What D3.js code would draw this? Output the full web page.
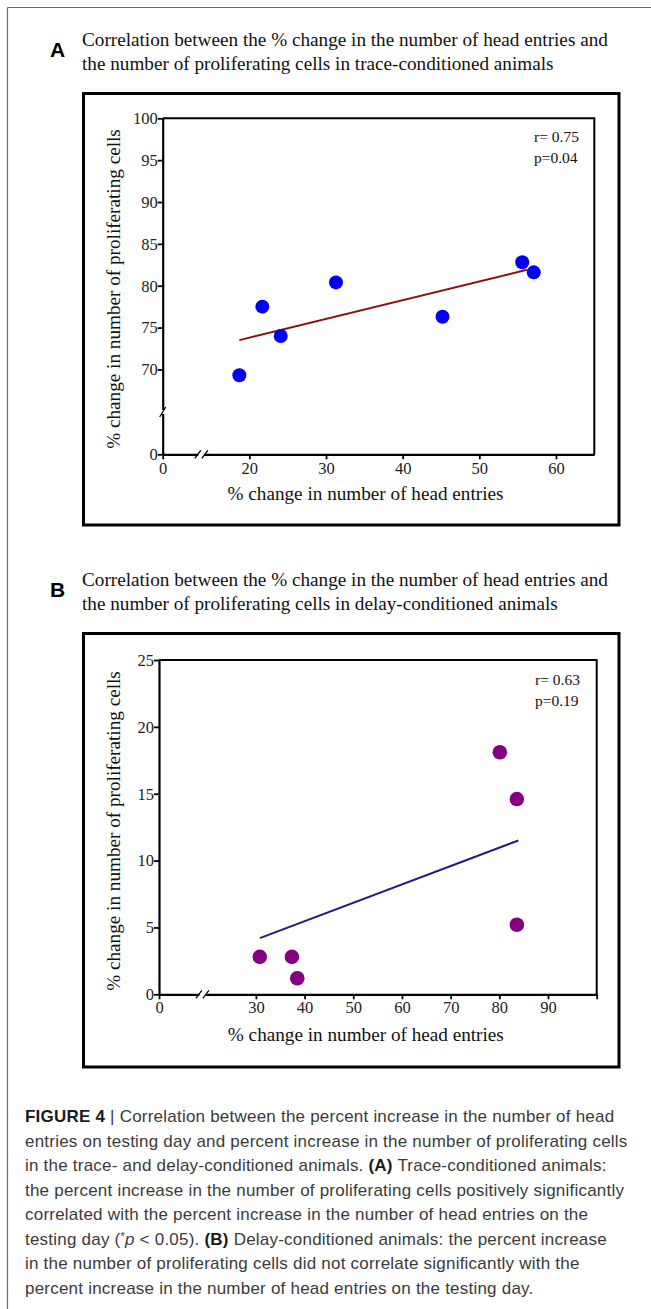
<!DOCTYPE html>
<html><head><meta charset="utf-8">
<script src="https://cdn.jsdelivr.net/npm/d3@7"></script>
<style>
html,body{margin:0;padding:0;background:#fff;}
svg{display:block;}
</style></head>
<body>
<script>
// ---------- DATA ----------
const traceX = [18.7, 21.7, 24.1, 31.3, 45.2, 55.6, 57.1];
const traceY = [69.3, 77.5, 74.0, 80.4, 76.3, 82.8, 81.6];
const traceFitX = [18.7, 56.2];
const traceFitY = [73.5, 81.9];
const traceXTicks = [0, 20, 30, 40, 50, 60];
const traceYTicks = [0, 70, 75, 80, 85, 90, 95, 100];
const traceStats = ["r= 0.75", "p=0.04"];

const delayX = [30.8, 37.4, 38.5, 80.1, 83.6, 83.6];
const delayY = [2.8, 2.8, 1.2, 18.1, 14.6, 5.2];
const delayFitX = [30.8, 83.9];
const delayFitY = [4.2, 11.5];
const delayXTicks = [0, 30, 40, 50, 60, 70, 80, 90, 100];
const delayXTickLabels = ["0", "30", "40", "50", "60", "70", "80", "90", ""];
const delayYTicks = [0, 5, 10, 15, 20, 25];
const delayStats = ["r= 0.63", "p=0.19"];

const titleA = ["Correlation between the % change in the number of head entries and",
                "the number of proliferating cells in trace-conditioned animals"];
const titleB = ["Correlation between the % change in the number of head entries and",
                "the number of proliferating cells in delay-conditioned animals"];
const xLabel = "% change in number of head entries";
const yLabel = "% change in number of proliferating cells";

// ---------- SETUP ----------
const W = 651, H = 1309;
const svg = d3.select("body").append("svg").attr("width", W).attr("height", H);
const serif = "'Liberation Serif','Times New Roman',serif";
const sans = "'Liberation Sans',Arial,sans-serif";

// outer figure frame
svg.append("line").attr("x1", 7.5).attr("y1", 7.5).attr("x2", W).attr("y2", 7.5)
  .attr("stroke", "#6d6d6d").attr("stroke-width", 1.2);
svg.append("line").attr("x1", 7.5).attr("y1", 7.5).attr("x2", 7.5).attr("y2", H)
  .attr("stroke", "#6d6d6d").attr("stroke-width", 1.2);

function panel(cfg) {
  const g = svg.append("g");
  g.append("rect").attr("x", cfg.box[0]).attr("y", cfg.box[1])
    .attr("width", cfg.box[2] - cfg.box[0]).attr("height", cfg.box[3] - cfg.box[1])
    .attr("fill", "none").attr("stroke", "#000").attr("stroke-width", 3);
  g.append("text").attr("x", 50).attr("y", cfg.box[1] - 37)
    .attr("font-family", sans).attr("font-weight", "bold").attr("font-size", 21)
    .text(cfg.letter);
  g.selectAll("text.title").data(cfg.title).join("text").attr("class", "title")
    .attr("x", 82).attr("y", (d, i) => cfg.box[1] - 48 + i * 24)
    .attr("font-family", serif).attr("font-size", 19.2).attr("fill", "#111")
    .text(d => d);

  const x = cfg.x, y = cfg.y;
  const [xl, xr] = [x.range()[0], x.range()[x.range().length - 1]];
  const [yb, yt] = [y.range()[0], y.range()[y.range().length - 1]];

  g.append("path").attr("d", `M${xl},${yt}H${xr}V${yb}`)
    .attr("fill", "none").attr("stroke", "#000").attr("stroke-width", 2);

  const xAxis = d3.axisBottom(x).tickValues(cfg.xTicks).tickSize(5).tickSizeOuter(0)
    .tickFormat((d, i) => cfg.xTickLabels ? cfg.xTickLabels[i] : d);
  const gx = g.append("g").attr("transform", `translate(0,${yb})`).call(xAxis);
  gx.attr("font-size", null).attr("font-family", null);
  gx.select(".domain").attr("stroke-width", 2.2);
  gx.selectAll(".tick line").attr("stroke-width", 1.8);
  gx.selectAll("text").attr("font-family", serif).attr("font-size", 16.5).attr("fill", "#222")
    .attr("dy", 0).attr("y", cfg.xTickDy);

  const yAxis = d3.axisLeft(y).tickValues(cfg.yTicks).tickSize(5).tickSizeOuter(0);
  const gy = g.append("g").attr("transform", `translate(${xl},0)`).call(yAxis);
  gy.attr("font-size", null).attr("font-family", null);
  gy.select(".domain").attr("stroke-width", 2.2);
  gy.selectAll(".tick line").attr("stroke-width", 1.8);
  gy.selectAll("text").attr("font-family", serif).attr("font-size", 16.5).attr("fill", "#222")
    .attr("x", -5);

  cfg.xBreaks.forEach(v => {
    const px = x(v);
    g.append("rect").attr("x", px - 3).attr("y", yb - 3).attr("width", 6).attr("height", 6).attr("fill", "#fff");
    [-3.5, 3.5].forEach(o => g.append("line")
      .attr("x1", px + o - 3).attr("y1", yb + 4).attr("x2", px + o + 3).attr("y2", yb - 4)
      .attr("stroke", "#000").attr("stroke-width", 1.3));
  });
  (cfg.yBreaks || []).forEach(v => {
    const py = y(v);
    g.append("rect").attr("x", xl - 3).attr("y", py - 2).attr("width", 6).attr("height", 4).attr("fill", "#fff");
    g.append("line").attr("x1", xl - 3).attr("y1", py + 5).attr("x2", xl + 3).attr("y2", py - 5)
      .attr("stroke", "#000").attr("stroke-width", 1.3);
  });

  g.append("text").attr("x", (xl + xr) / 2 + cfg.xLabelShift).attr("y", cfg.xLabelY)
    .attr("text-anchor", "middle").attr("font-family", serif).attr("font-size", 19.2).attr("fill", "#111")
    .text(xLabel);
  g.append("text").attr("transform", `translate(120,${cfg.yLabelCY}) rotate(-90)`)
    .attr("text-anchor", "middle").attr("font-family", serif).attr("font-size", 19.2).attr("fill", "#111")
    .text(yLabel);

  g.append("line")
    .attr("x1", x(cfg.fitX[0])).attr("y1", y(cfg.fitY[0]))
    .attr("x2", x(cfg.fitX[1])).attr("y2", y(cfg.fitY[1]))
    .attr("stroke", cfg.fitColor).attr("stroke-width", 2);

  g.selectAll("circle.pt").data(cfg.px.map((d, i) => [d, cfg.py[i]])).join("circle")
    .attr("class", "pt").attr("cx", d => x(d[0])).attr("cy", d => y(d[1]))
    .attr("r", cfg.r).attr("fill", cfg.color);

  g.selectAll("text.stat").data(cfg.stats).join("text").attr("class", "stat")
    .attr("x", cfg.statX).attr("y", (d, i) => cfg.statY + i * 21)
    .attr("font-family", serif).attr("font-size", 15.5).attr("fill", "#111")
    .text(d => d);
}

panel({
  letter: "A", title: titleA, box: [83.5, 93.5, 619, 525],
  x: d3.scaleLinear().domain([0, 15, 65]).range([162.7, 211, 594.3]),
  y: d3.scaleLinear().domain([0, 65, 100]).range([454.3, 411.3, 118.3]),
  xTicks: traceXTicks, yTicks: traceYTicks, xTickDy: 20,
  xBreaks: [12], yBreaks: [64],
  xLabelY: 500, xLabelShift: -13, yLabelCY: 289,
  fitX: traceFitX, fitY: traceFitY, fitColor: "#8b0f0f",
  px: traceX, py: traceY, r: 7, color: "#0000f5",
  stats: traceStats, statX: 534, statY: 142
});

panel({
  letter: "B", title: titleB, box: [83.5, 633.5, 619, 1067],
  x: d3.scaleLinear().domain([0, 20, 100]).range([159, 207.2, 596.7]),
  y: d3.scaleLinear().domain([0, 25]).range([994.3, 660]),
  xTicks: delayXTicks, xTickLabels: delayXTickLabels, yTicks: delayYTicks, xTickDy: 19,
  xBreaks: [18],
  xLabelY: 1041, xLabelShift: -12, yLabelCY: 831,
  fitX: delayFitX, fitY: delayFitY, fitColor: "#1c1c86",
  px: delayX, py: delayY, r: 7.3, color: "#830083",
  stats: delayStats, statX: 535, statY: 685
});

// ---------- CAPTION ----------
const captionLines = [
  [["b", "FIGURE 4 "], ["n", "|  Correlation between the percent increase in the number of head"]],
  [["n", "entries on testing day and percent increase in the number of proliferating cells"]],
  [["n", "in the trace- and delay-conditioned animals. "], ["b", "(A)"], ["n", " Trace-conditioned animals:"]],
  [["n", "the percent increase in the number of proliferating cells positively significantly"]],
  [["n", "correlated with the percent increase in the number of head entries on the"]],
  [["n", "testing day ("], ["sup", "*"], ["i", "p"], ["n", " < 0.05). "], ["b", "(B)"], ["n", " Delay-conditioned animals: the percent increase"]],
  [["n", "in the number of proliferating cells did not correlate significantly with the"]],
  [["n", "percent increase in the number of head entries on the testing day."]]
];
const cap = svg.append("g");
captionLines.forEach((parts, i) => {
  const t = cap.append("text").attr("x", 25).attr("y", 1122 + i * 24.5)
    .attr("font-family", sans).attr("font-size", 17).attr("letter-spacing", 0.22)
    .attr("fill", "#3a3a3a");
  parts.forEach(([k, s]) => {
    const ts = t.append("tspan").text(s);
    if (k === "b") ts.attr("font-weight", "bold").attr("fill", "#1a1a1a");
    if (k === "i") ts.attr("font-style", "italic");
    if (k === "sup") ts.attr("font-size", 11).attr("dy", -5);
    if (k === "i") ts.attr("dy", 5);
  });
});
</script>
</body></html>
